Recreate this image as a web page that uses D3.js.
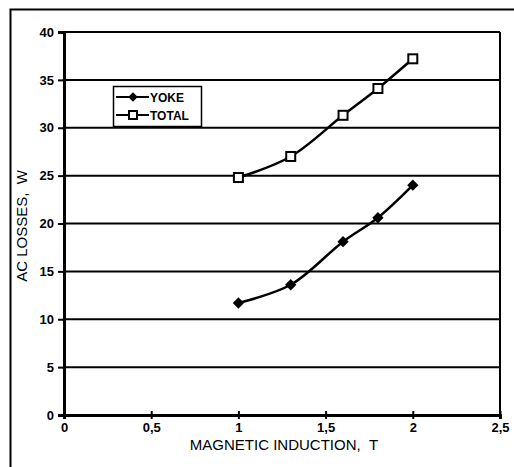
<!DOCTYPE html>
<html>
<head>
<meta charset="utf-8">
<script src="https://cdn.jsdelivr.net/npm/d3@7"></script>
<style>
body { margin: 0; background: #fff; }
text { font-family: "Liberation Sans", Arial, sans-serif; fill: #000; }
</style>
</head>
<body>
<div id="chart"></div>
<script>
// data
var induction = [1, 1.3, 1.6, 1.8, 2];
var yoke = [11.7, 13.6, 18.1, 20.6, 24.0];
var total = [24.8, 27.0, 31.3, 34.1, 37.2];
var xTicks = [0, 0.5, 1, 1.5, 2, 2.5];
var yTicks = [0, 5, 10, 15, 20, 25, 30, 35, 40];
var legendItems = ["YOKE", "TOTAL"];

var width = 514, height = 467;
var pLeft = 64, pRight = 500, pTop = 32, pBottom = 415;

var svg = d3.select("#chart").append("svg")
    .attr("width", width)
    .attr("height", height);

svg.append("rect").attr("width", width).attr("height", height).attr("fill", "white");

// outer frame (only top and left edges visible)
svg.append("rect")
    .attr("x", 10.5).attr("y", 9.5)
    .attr("width", 520).attr("height", 480)
    .attr("fill", "none").attr("stroke", "black").attr("stroke-width", 2);

var x = d3.scaleLinear().domain([0, 2.5]).range([pLeft, pRight]);
var y = d3.scaleLinear().domain([0, 40]).range([pBottom, pTop]);

// gridlines
svg.append("g").selectAll("line").data(yTicks.filter(function(d){ return d > 0 }))
  .enter().append("line")
    .attr("x1", pLeft).attr("x2", pRight)
    .attr("y1", function(d){ return y(d) }).attr("y2", function(d){ return y(d) })
    .attr("stroke", "black").attr("stroke-width", 2);

// right border
svg.append("line")
    .attr("x1", pRight).attr("x2", pRight).attr("y1", pTop).attr("y2", pBottom)
    .attr("stroke", "black").attr("stroke-width", 2);

var fmt = function(d){ return String(d).replace(".", ",") };

var yAxis = d3.axisLeft(y).tickValues(yTicks).tickSize(6).tickPadding(4).tickFormat(fmt);
var gy = svg.append("g").attr("transform", "translate(" + pLeft + ",0)").call(yAxis);

var xAxis = d3.axisBottom(x).tickValues(xTicks).tickSize(4).tickPadding(4).tickFormat(fmt);
var gx = svg.append("g").attr("transform", "translate(0," + pBottom + ")").call(xAxis);

[gx, gy].forEach(function(g){
    g.select(".domain").attr("stroke", "black").attr("stroke-width", 3);
    g.selectAll(".tick line").attr("stroke", "black").attr("stroke-width", 2);
    g.selectAll("text")
      .style("font-family", "'Liberation Sans', Arial, sans-serif")
      .style("font-size", "13px").style("font-weight", "bold").attr("fill", "black");
});
gx.selectAll(".tick line").attr("y1", -4);

// axis titles
svg.append("text")
    .attr("x", 284).attr("y", 450)
    .attr("text-anchor", "middle")
    .style("font-size", "15px")
    .text("MAGNETIC INDUCTION,\u00a0\u00a0T");

svg.append("text")
    .attr("transform", "translate(27,226) rotate(-90)")
    .attr("text-anchor", "middle")
    .style("font-size", "15px")
    .text("AC LOSSES,\u00a0\u00a0W");

var line = d3.line()
    .x(function(d){ return x(d[0]) })
    .y(function(d){ return y(d[1]) })
    .curve(d3.curveCatmullRom.alpha(0.5));

var yokePts = induction.map(function(d, i){ return [d, yoke[i]] });
var totalPts = induction.map(function(d, i){ return [d, total[i]] });

svg.append("path").attr("d", line(yokePts))
    .attr("fill", "none").attr("stroke", "black").attr("stroke-width", 2.5);
svg.append("path").attr("d", line(totalPts))
    .attr("fill", "none").attr("stroke", "black").attr("stroke-width", 2.5);

svg.selectAll(".yokept").data(yokePts)
  .enter().append("path")
    .attr("class", "yokept")
    .attr("d", d3.symbol().type(d3.symbolSquare).size(64))
    .attr("transform", function(d){ return "translate(" + x(d[0]) + "," + y(d[1]) + ") rotate(45)" })
    .attr("fill", "black");

svg.selectAll(".totpt").data(totalPts)
  .enter().append("rect")
    .attr("class", "totpt")
    .attr("x", function(d){ return x(d[0]) - 4.5 })
    .attr("y", function(d){ return y(d[1]) - 4.5 })
    .attr("width", 9).attr("height", 9)
    .attr("fill", "white").attr("stroke", "black").attr("stroke-width", 2);

// legend
var lg = svg.append("g");
lg.append("rect")
    .attr("x", 113.5).attr("y", 86.5).attr("width", 88).attr("height", 40)
    .attr("fill", "white").attr("stroke", "black").attr("stroke-width", 1.5);

legendItems.forEach(function(name, i){
    var ly = 97 + i * 18;
    lg.append("line").attr("x1", 116).attr("x2", 149).attr("y1", ly).attr("y2", ly)
        .attr("stroke", "black").attr("stroke-width", 2);
    if (i == 0) {
        lg.append("path")
            .attr("d", d3.symbol().type(d3.symbolSquare).size(45))
            .attr("transform", "translate(133," + ly + ") rotate(45)")
            .attr("fill", "black");
    } else {
        lg.append("rect").attr("x", 129).attr("y", ly - 4).attr("width", 8).attr("height", 8)
            .attr("fill", "white").attr("stroke", "black").attr("stroke-width", 2);
    }
    lg.append("text").attr("x", 150).attr("y", ly + 4.5)
        .style("font-size", "12px").style("font-weight", "bold")
        .text(name);
});
</script>
</body>
</html>
